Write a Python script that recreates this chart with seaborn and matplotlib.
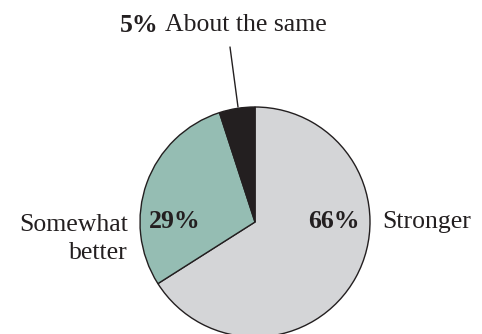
import seaborn as sns
import matplotlib.pyplot as plt

labels = ["Stronger", "Somewhat better", "About the same"]
shares = [66, 29, 5]
colors = ["#d4d5d7", "#95bdb3", "#231f20"]

sns.set_style("white")
plt.rcParams['font.family'] = ['Liberation Serif', 'DejaVu Serif']
plt.rcParams['text.color'] = "#231f20"

fig = plt.figure(figsize=(4.82, 3.34), dpi=100)
ax = fig.add_axes([0, 0, 1, 1])

cx, cy, r = 255, 112, 115
ax.pie(shares, colors=colors, startangle=90, counterclock=False,
       center=(cx, cy), radius=r, frame=True,
       wedgeprops=dict(edgecolor="#231f20", linewidth=1))
ax.set_xlim(0, 482)
ax.set_ylim(0, 334)
ax.set_aspect("equal")
ax.axis("off")

fs = 18.5
# Stronger
ax.text(334, 112, f"{shares[0]}%", ha="center", va="center", fontsize=fs, fontweight="bold")
ax.text(382, 112, labels[0], ha="left", va="center", fontsize=fs)
# Somewhat better
ax.text(175, 112, f"{shares[1]}%", ha="center", va="center", fontsize=fs, fontweight="bold")
ax.text(128, 95, "Somewhat\nbetter", ha="right", va="center", fontsize=fs, linespacing=1.3)
# About the same
ax.text(120, 309, f"{shares[2]}%", ha="left", va="center", fontsize=fs, fontweight="bold")
ax.text(165, 309, labels[2], ha="left", va="center", fontsize=fs)
ax.plot([230, 238], [287, 227], color="#231f20", linewidth=1)

fig.savefig("out.png", dpi=100)
